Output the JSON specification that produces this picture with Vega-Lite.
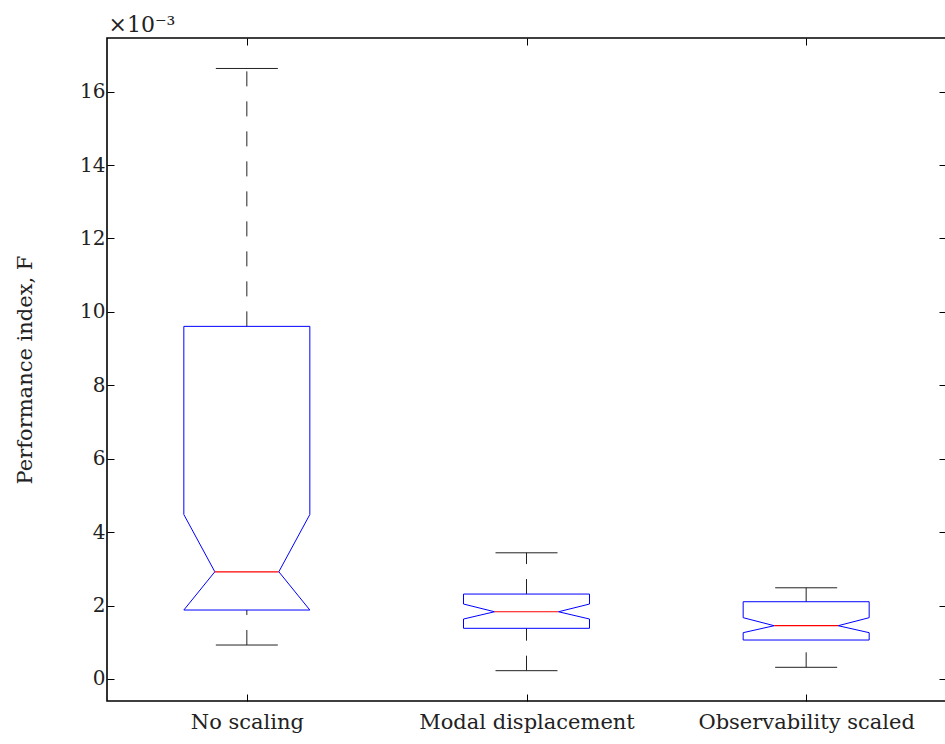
{
  "$schema": "https://vega.github.io/schema/vega-lite/v6.json",
  "autosize": "none",
  "padding": {"left": 107, "top": 38, "right": 0, "bottom": 43},
  "width": 839,
  "height": 663,
  "background": "white",
  "config": {
    "view": {"stroke": "black", "strokeWidth": 1.6},
    "font": "DejaVu Serif",
    "axis": {
      "domain": false,
      "grid": false,
      "tickColor": "black",
      "tickWidth": 1,
      "labelFont": "DejaVu Serif",
      "titleFont": "DejaVu Serif",
      "labelColor": "#222222",
      "titleColor": "#222222",
      "titleFontWeight": "normal",
      "labelLimit": 0
    }
  },
  "data": {
    "values": [
      {"group": "No scaling", "lo": 0.925, "q1": 1.878, "nlo": 1.878, "med": 2.92, "nhi": 4.48, "q3": 9.605, "hi": 16.63},
      {"group": "Modal displacement", "lo": 0.226, "q1": 1.38, "nlo": 1.633, "med": 1.831, "nhi": 2.041, "q3": 2.313, "hi": 3.437},
      {"group": "Observability scaled", "lo": 0.318, "q1": 1.061, "nlo": 1.261, "med": 1.451, "nhi": 1.669, "q3": 2.104, "hi": 2.484}
    ]
  },
  "resolve": {"scale": {"x": "shared", "y": "shared"}, "axis": {"x": "independent", "y": "independent"}},
  "layer": [
    {
      "mark": {"type": "rule", "color": "#222222", "strokeWidth": 1, "strokeDash": [15, 15]},
      "encoding": {
        "x": {"field": "group", "type": "nominal", "sort": null, "scale": {"type": "point", "padding": 0.5},
          "axis": {"orient": "bottom", "title": null, "labelAngle": 0, "labelFontSize": 21, "tickSize": -7, "labelPadding": 17, "labelLimit": 0}},
        "y": {"field": "q3", "type": "quantitative", "scale": {"domain": [-0.6, 17.46], "nice": false, "zero": false},
          "axis": {"orient": "left", "values": [0, 2, 4, 6, 8, 10, 12, 14, 16], "labelFontSize": 20, "tickSize": -7, "labelPadding": 9,
            "title": "Performance index, F", "titleFontSize": 21, "titleX": -82, "titleBaseline": "middle"}},
        "y2": {"field": "hi"}
      }
    },
    {
      "mark": {"type": "rule", "color": "#222222", "strokeWidth": 1, "strokeDash": [15, 15]},
      "encoding": {
        "x": {"field": "group", "type": "nominal", "sort": null,
          "axis": {"orient": "top", "title": null, "labels": false, "tickSize": -7}},
        "y": {"field": "lo", "type": "quantitative",
          "axis": {"orient": "right", "values": [0, 2, 4, 6, 8, 10, 12, 14, 16], "labels": false, "tickSize": -7,
            "title": "×10⁻³", "titleAngle": 0, "titleAlign": "left", "titleBaseline": "alphabetic", "titleFontSize": 22, "titleX": -838, "titleY": -7}},
        "y2": {"field": "q1"}
      }
    },
    {
      "mark": {"type": "rule", "color": "#222222", "strokeWidth": 1, "xOffset": -31, "x2Offset": 31},
      "encoding": {
        "x": {"field": "group", "type": "nominal", "sort": null, "axis": null},
        "x2": {"field": "group"},
        "y": {"field": "hi", "type": "quantitative", "axis": null}
      }
    },
    {
      "mark": {"type": "rule", "color": "#222222", "strokeWidth": 1, "xOffset": -31, "x2Offset": 31},
      "encoding": {
        "x": {"field": "group", "type": "nominal", "sort": null, "axis": null},
        "x2": {"field": "group"},
        "y": {"field": "lo", "type": "quantitative", "axis": null}
      }
    },
    {
      "mark": {"type": "rule", "color": "#0000ff", "strokeWidth": 1, "xOffset": -63, "x2Offset": 63},
      "encoding": {
        "x": {"field": "group", "type": "nominal", "sort": null, "axis": null},
        "x2": {"field": "group"},
        "y": {"field": "q3", "type": "quantitative", "axis": null}
      }
    },
    {
      "mark": {"type": "rule", "color": "#0000ff", "strokeWidth": 1, "xOffset": -63, "x2Offset": 63},
      "encoding": {
        "x": {"field": "group", "type": "nominal", "sort": null, "axis": null},
        "x2": {"field": "group"},
        "y": {"field": "q1", "type": "quantitative", "axis": null}
      }
    },
    {
      "mark": {"type": "rule", "color": "#0000ff", "strokeWidth": 1, "xOffset": -63},
      "encoding": {
        "x": {"field": "group", "type": "nominal", "sort": null, "axis": null},
        "y": {"field": "q3", "type": "quantitative", "axis": null},
        "y2": {"field": "nhi"}
      }
    },
    {
      "mark": {"type": "rule", "color": "#0000ff", "strokeWidth": 1, "xOffset": 63},
      "encoding": {
        "x": {"field": "group", "type": "nominal", "sort": null, "axis": null},
        "y": {"field": "q3", "type": "quantitative", "axis": null},
        "y2": {"field": "nhi"}
      }
    },
    {
      "mark": {"type": "rule", "color": "#0000ff", "strokeWidth": 1, "xOffset": -63},
      "encoding": {
        "x": {"field": "group", "type": "nominal", "sort": null, "axis": null},
        "y": {"field": "nlo", "type": "quantitative", "axis": null},
        "y2": {"field": "q1"}
      }
    },
    {
      "mark": {"type": "rule", "color": "#0000ff", "strokeWidth": 1, "xOffset": 63},
      "encoding": {
        "x": {"field": "group", "type": "nominal", "sort": null, "axis": null},
        "y": {"field": "nlo", "type": "quantitative", "axis": null},
        "y2": {"field": "q1"}
      }
    },
    {
      "mark": {"type": "rule", "color": "#0000ff", "strokeWidth": 1, "xOffset": -63, "x2Offset": -32},
      "encoding": {
        "x": {"field": "group", "type": "nominal", "sort": null, "axis": null},
        "x2": {"field": "group"},
        "y": {"field": "nhi", "type": "quantitative", "axis": null},
        "y2": {"field": "med"}
      }
    },
    {
      "mark": {"type": "rule", "color": "#0000ff", "strokeWidth": 1, "xOffset": 63, "x2Offset": 32},
      "encoding": {
        "x": {"field": "group", "type": "nominal", "sort": null, "axis": null},
        "x2": {"field": "group"},
        "y": {"field": "nhi", "type": "quantitative", "axis": null},
        "y2": {"field": "med"}
      }
    },
    {
      "mark": {"type": "rule", "color": "#0000ff", "strokeWidth": 1, "xOffset": -32, "x2Offset": -63},
      "encoding": {
        "x": {"field": "group", "type": "nominal", "sort": null, "axis": null},
        "x2": {"field": "group"},
        "y": {"field": "med", "type": "quantitative", "axis": null},
        "y2": {"field": "nlo"}
      }
    },
    {
      "mark": {"type": "rule", "color": "#0000ff", "strokeWidth": 1, "xOffset": 32, "x2Offset": 63},
      "encoding": {
        "x": {"field": "group", "type": "nominal", "sort": null, "axis": null},
        "x2": {"field": "group"},
        "y": {"field": "med", "type": "quantitative", "axis": null},
        "y2": {"field": "nlo"}
      }
    },
    {
      "mark": {"type": "rule", "color": "#ff0000", "strokeWidth": 1.2, "xOffset": -32, "x2Offset": 32},
      "encoding": {
        "x": {"field": "group", "type": "nominal", "sort": null, "axis": null},
        "x2": {"field": "group"},
        "y": {"field": "med", "type": "quantitative", "axis": null}
      }
    }
  ]
}
